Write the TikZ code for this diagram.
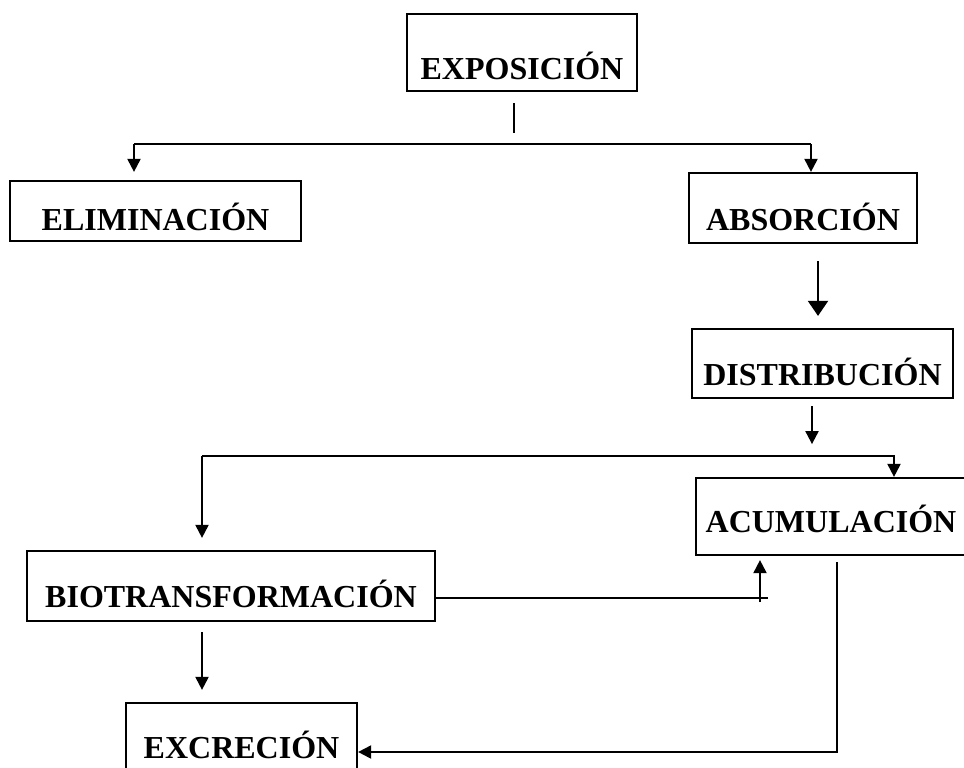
\documentclass[tikz,border=0pt]{standalone}
\usepackage{fontspec}
\setmainfont{Liberation Serif}
\usetikzlibrary{arrows.meta}
\begin{document}
\begin{tikzpicture}[x=1pt,y=-1pt,
    box/.style={draw, line width=2.2pt, inner sep=0pt, text depth=0pt,
                font=\bfseries\fontsize{32}{36}\selectfont},
    link/.style={line width=2pt},
    arr/.style={link, -{Triangle[length=13pt,width=13pt]}},
    bigarr/.style={link, -{Triangle[length=15pt,width=20pt]}}]
      \useasboundingbox (0,0) rectangle (964,768);

      \foreach \nm/\cx/\cy/\bw/\bh/\tx/\str in {expo/522/52.5/230/77/53/EXPOSICIÓN,
                                               elim/155.5/211/291/60/38/ELIMINACIÓN,
                                               abs/803/208/228/70/44/ABSORCIÓN,
                                               dist/822.5/363.5/261/69/43/DISTRIBUCIÓN,
                                               acum/831/516.5/270/77/31/ACUMULACIÓN,
                                               bio/231/586/408/70/42/BIOTRANSFORMACIÓN,
                                               excr/241.5/741.5/231/77/33/EXCRECIÓN}
      {\node[box, minimum width=\bw pt, minimum height=\bh pt, text height=\tx pt]
         (\nm) at (\cx,\cy) {\str};
      };

      \coordinate (forkL) at (134,144);
      \coordinate (forkR) at (811,144);
      \coordinate (colA) at (818,0);
      \coordinate (colB) at (812,0);
      \coordinate (loopL) at (202,456);
      \coordinate (loopR) at (894,456);
      \coordinate (back) at (768,598);
      \coordinate (up) at (760,602);
      \coordinate (drop) at (837,752);

      \draw[link] (expo.south) ++(-8,11) -- ++(0,30);
      \draw[link] (forkL) -- (forkR);
      \draw[arr, shorten >=8pt] (forkL) -- (forkL |- elim.north);
      \draw[arr] (forkR) -- (forkR |- abs.north);
      \draw[bigarr, shorten <=17pt, shorten >=12pt] (abs.south -| colA) -- (dist.north -| colA);
      \draw[arr, shorten <=7pt] (dist.south -| colB) -- ++(0,45);

      \draw[arr] (loopL) -- (loopR) -- (loopR |- acum.north);
      \draw[arr, shorten >=12pt] (loopL) -- (loopL |- bio.north);
      \draw[link] (back -| bio.east) -- (back);
      \draw[arr, shorten >=4pt] (up) -- (up |- acum.south);
      \draw[arr, shorten <=10pt, shorten >=12pt] (bio.south -| loopL) -- (excr.north -| loopL);
      \draw[arr, shorten <=6pt] (acum.south -| drop) -- (drop) -- (drop -| excr.east);
\end{tikzpicture}
\end{document}
